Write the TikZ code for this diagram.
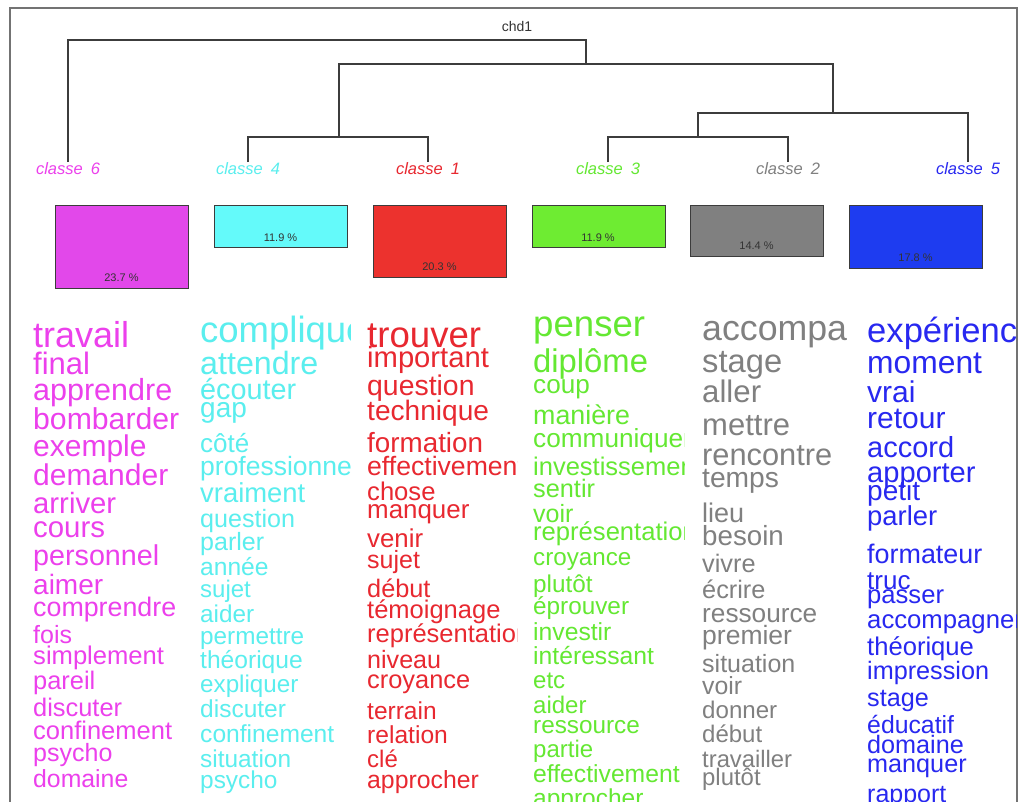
\documentclass[tikz,border=0pt]{standalone}
\usepackage{fontspec}
\setmainfont{Liberation Sans}
\newcommand\fsz[1]{\fontsize{#1}{#1}\selectfont}
\definecolor{cmag}{RGB}{236,64,236}
\definecolor{ccya}{RGB}{90,238,238}
\definecolor{cred}{RGB}{232,40,48}
\definecolor{cgrn}{RGB}{100,232,50}
\definecolor{cgry}{RGB}{128,128,128}
\definecolor{cblu}{RGB}{40,40,240}
\definecolor{fmag}{RGB}{226,72,234}
\definecolor{fcya}{RGB}{100,250,250}
\definecolor{fred}{RGB}{236,50,46}
\definecolor{fgrn}{RGB}{110,236,50}
\definecolor{fgry}{RGB}{128,128,128}
\definecolor{fblu}{RGB}{30,60,240}
\definecolor{dline}{RGB}{60,60,60}
\begin{document}
\begin{tikzpicture}[x=1pt,y=-1pt,
  wrd/.style={anchor=base west,inner sep=0pt},
  cls/.style={anchor=base,inner sep=0pt,font=\fsz{16.5}\itshape},
  bar/.style={draw=dline,line width=0.9pt,anchor=north west,minimum width=133pt,inner sep=0pt,outer sep=0pt},
  pct/.style={anchor=base,inner sep=0pt,font=\fsz{11},text=black!80},
  tree/.style={draw=dline,line width=1.1pt}]
\useasboundingbox (0,0) rectangle (1019,801);
\clip (0,0) rectangle (1019,801);
\fill[white] (0,0) rectangle (1019,801);
\draw[draw=black!55,line width=1.6pt] (10,830) -- (10,8) -- (1017,8) -- (1017,830);
% title
\node[anchor=base,inner sep=0pt,font=\fsz{14},text=black!80] (title) at (517,31) {chd1};
% class labels
\node[cls,text=cmag] (l6) at (68,174) {classe\hspace{8pt}6};
\node[cls,text=ccya] (l4) at (248,174) {classe\hspace{8pt}4};
\node[cls,text=cred] (l1) at (428,174) {classe\hspace{8pt}1};
\node[cls,text=cgrn] (l3) at (608,174) {classe\hspace{8pt}3};
\node[cls,text=cgry] (l2) at (788,174) {classe\hspace{8pt}2};
\node[cls,text=cblu] (l5) at (968,174) {classe\hspace{8pt}5};
% dendrogram junctions
\coordinate (rootc) at (327,40);
\coordinate (n2) at (586,64);
\coordinate (n3) at (339,137);
\coordinate (n4) at (833,113);
\coordinate (n5) at (698,137);
\coordinate (k6) at (68,162);
\coordinate (k4) at (248,162);
\coordinate (k1) at (428,162);
\coordinate (k3) at (608,162);
\coordinate (k2) at (788,162);
\coordinate (k5) at (968,162);
\draw[tree] (k6) |- (rootc);
\draw[tree] (n2) |- (rootc);
\draw[tree] (n3) |- (n2);
\draw[tree] (n4) |- (n2);
\draw[tree] (k4) |- (n3);
\draw[tree] (k1) |- (n3);
\draw[tree] (n5) |- (n4);
\draw[tree] (k5) |- (n4);
\draw[tree] (k3) |- (n5);
\draw[tree] (k2) |- (n5);
% bars
\node[bar,fill=fmag,minimum height=83pt] (b6) at (55,205) {};
\node[bar,fill=fcya,minimum height=42pt] (b4) at (214,205) {};
\node[bar,fill=fred,minimum height=72pt] (b1) at (373,205) {};
\node[bar,fill=fgrn,minimum height=42pt] (b3) at (532,205) {};
\node[bar,fill=fgry,minimum height=51pt] (b2) at (690,205) {};
\node[bar,fill=fblu,minimum height=63pt] (b5) at (849,205) {};
\node[pct] (p6) at (121.5,281) {23.7 \%};
\node[pct] (p4) at (280.5,241) {11.9 \%};
\node[pct] (p1) at (439.5,270) {20.3 \%};
\node[pct] (p3) at (598,241) {11.9 \%};
\node[pct] (p2) at (756.5,249) {14.4 \%};
\node[pct] (p5) at (915.5,261) {17.8 \%};
% word columns
\begin{scope}
\clip (20,300) rectangle (198,801);
\foreach \t/\y/\s [count=\i] in {travail/347/36, final/374/31, apprendre/400/30.5, bombarder/429/30.2, exemple/456/30, demander/485/30, arriver/513/29.3, cours/537/29.4, personnel/565/28.7, aimer/594/28, comprendre/616/26.8, fois/643/25, simplement/664/25.6, pareil/689/25.4, discuter/716/25.4, confinement/739/25.5, psycho/761/25, domaine/787/24.8}
  \node[wrd,text=cmag,font=\fsz{\s}] (mag\i) at (33,\y) {\t};
\end{scope}
\begin{scope}
\clip (198,300) rectangle (350,801);
\foreach \t/\y/\s [count=\i] in {compliqué/342/36.5, attendre/374/32.2, écouter/399/28.8, gap/417/28, côté/452/26, professionnel/475/26.5, vraiment/502/27.4, question/527/25.1, parler/550/25, année/575/24.6, sujet/597/24, aider/622/24.3, permettre/644/24.3, théorique/668/24.6, expliquer/692/24.2, discuter/717/24.5, confinement/742/24.6, situation/767/24.4, psycho/788/24.4}
  \node[wrd,text=ccya,font=\fsz{\s}] (cya\i) at (200,\y) {\t};
\end{scope}
\begin{scope}
\clip (360,300) rectangle (517,801);
\foreach \t/\y/\s [count=\i] in {trouver/347/36.6, important/367/29.2, question/395/28.4, technique/420/28.1, formation/452/27.8, effectivement/475/26.6, chose/500/25.6, manquer/518/25.9, venir/547/25.8, sujet/568/25, début/597/25.3, témoignage/618/25.5, représentation/642/25.5, niveau/668/25.1, croyance/688/25.4, terrain/719/24.5, relation/743/24.6, clé/767/24, approcher/788/24.8}
  \node[wrd,text=cred,font=\fsz{\s}] (red\i) at (367,\y) {\t};
\end{scope}
\begin{scope}
\clip (525,300) rectangle (684,801);
\foreach \t/\y/\s [count=\i] in {penser/336/36.6, diplôme/372/32.8, coup/393/26.1, manière/424/26.8, communiquer/447/26.2, investissement/475/25.5, sentir/497/25.3, voir/522/25, représentation/540/25.6, croyance/565/24.2, plutôt/592/24.3, éprouver/614/24.3, investir/640/24.7, intéressant/664/24.7, etc/688/24, aider/713/24, ressource/733/24.3, partie/757/24, effectivement/782/24.7, approcher/806/24.5}
  \node[wrd,text=cgrn,font=\fsz{\s}] (grn\i) at (533,\y) {\t};
\end{scope}
\begin{scope}
\clip (690,300) rectangle (847,801);
\foreach \t/\y/\s [count=\i] in {accompagner/340/35.7, stage/372/32.7, aller/402/31.2, mettre/435/31, rencontre/465/30.8, temps/487/28.2, lieu/522/27, besoin/545/27.7, vivre/572/25.3, écrire/598/25.3, ressource/622/26.2, premier/644/26.5, situation/672/25, voir/694/24.8, donner/718/24.1, début/742/24, travailler/767/23.8, plutôt/785/23.9}
  \node[wrd,text=cgry,font=\fsz{\s}] (gry\i) at (702,\y) {\t};
\end{scope}
\begin{scope}
\clip (855,300) rectangle (1016,801);
\foreach \t/\y/\s [count=\i] in {expérience/342/34.6, moment/373/31.8, vrai/402/30, retour/428/30, accord/457/29, apporter/482/29.1, petit/500/28, parler/525/27.4, formateur/563/26.9, truc/589/26, passer/603/25.6, accompagner/628/25.7, théorique/655/25.6, impression/679/25.2, stage/706/25.2, éducatif/733/24.8, domaine/753/25.2, manquer/772/25.2, rapport/802/25}
  \node[wrd,text=cblu,font=\fsz{\s}] (blu\i) at (867,\y) {\t};
\end{scope}
\end{tikzpicture}
\end{document}
